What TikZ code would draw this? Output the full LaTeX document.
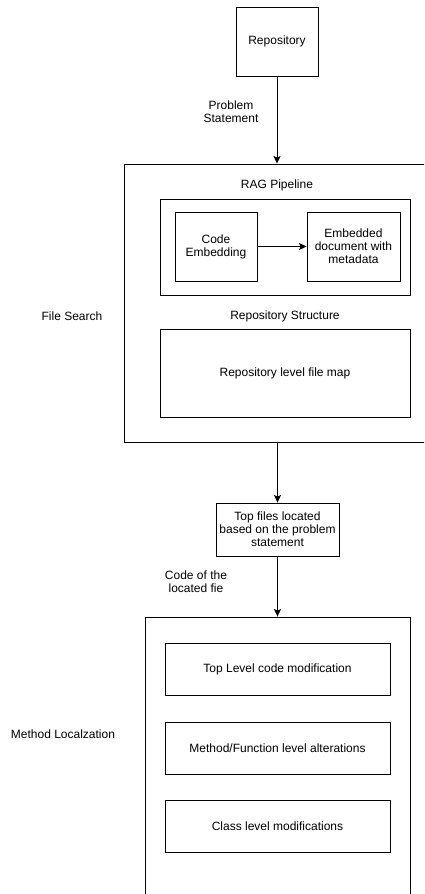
\documentclass[tikz,border=0pt]{standalone}
\usepackage{fontspec}
\setmainfont{Liberation Sans}
\usetikzlibrary{arrows.meta,positioning}

\begin{document}
\begin{tikzpicture}[x=1pt,y=-1pt,->,>={Stealth[length=7.5pt,width=7pt,inset=1.5pt]},line width=0.9pt,
  box/.style={draw,rectangle,inner sep=0pt,align=center,font=\fontsize{12}{13}\selectfont},
  lbl/.style={align=center,inner sep=0pt,font=\fontsize{12}{13}\selectfont}]
  \useasboundingbox (0,0) rectangle (424,894);
  \clip (0,0) rectangle (424,894);

  \node[box,minimum width=82,minimum height=69]  (repo)  at (277,41.5)    {Repository};
  \node[box,minimum width=316,minimum height=278] (fs)   at (282,303)     {};
  \node[box,minimum width=250,minimum height=96] (rag)   at (285,247)     {};
  \node[box,minimum width=82,minimum height=69]  (code)  at (216,246.5)   {Code\\Embedding};
  \node[box,minimum width=93,minimum height=69]  (emb)   at (353.5,246.5) {Embedded\\document with\\metadata};
  \node[box,minimum width=250,minimum height=88] (fmap)  at (285,373)     {Repository level file map};
  \node[box,minimum width=123,minimum height=53] (topf)  at (277.5,529.5) {Top files located\\based on the problem\\statement};
  \node[box,minimum width=265,minimum height=293] (meth) at (277.5,763.5) {};
  \node[box,minimum width=225,minimum height=52] (tlev)  at (277.5,669)   {Top Level code modification};
  \node[box,minimum width=225,minimum height=52] (mlev)  at (277.5,748)   {Method/Function level alterations};
  \node[box,minimum width=225,minimum height=52] (clev)  at (277.5,826)   {Class level modifications};

  \node[lbl] (probst)  at (231,112) {Problem\\Statement};
  \node[lbl] (fslbl)   at (72,316)  {File Search};
  \node[lbl] (raglbl)  at (277,185) {RAG Pipeline};
  \node[lbl] (rslbl)   at (285,316) {Repository Structure};
  \node[lbl] (codeof)  at (196,582) {Code of the\\located fie};
  \node[lbl] (mllbl)   at (63,734)  {Method Localzation};

  \path (repo.south) edge (repo.south |- fs.north)
        (code) edge (emb)
        (fs.south -| topf.north) edge (topf.north)
        (topf.south) edge (topf.south |- meth.north);
\end{tikzpicture}
\end{document}
